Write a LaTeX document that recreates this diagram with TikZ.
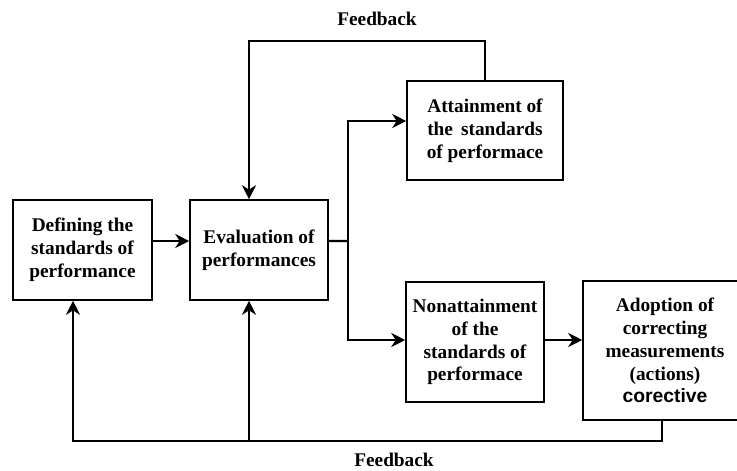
\documentclass[tikz,border=0pt]{standalone}
\usepackage{fontspec}
\setmainfont{Liberation Serif}
\newfontfamily\corfont{Liberation Sans}
\usetikzlibrary{arrows.meta}

\begin{document}
\begin{tikzpicture}[x=0.02cm,y=-0.02cm,
	box/.style={draw,line width=0.9pt,align=center,inner sep=0pt,font=\fontsize{11}{13}\selectfont\bfseries},
	arr/.style={-{Stealth[length=8pt,width=8pt]},line width=1.3pt},
	lbl/.style={font=\fontsize{11}{13}\selectfont\bfseries,inner sep=1pt}]
		\useasboundingbox (0,0) rectangle (737,470);
		\clip (0,0) rectangle (737,470);
			% the five boxes
			\node[box,minimum width=2.78cm,minimum height=2cm] (define) at (82.5,250) {Defining the\\standards of\\performance};
			\node[box,minimum width=2.76cm,minimum height=2cm] (eval) at (259,250) {Evaluation of\\performances};
			\node[box,minimum width=3.12cm,minimum height=1.98cm] (attain) at (485,130.5) {Attainment of\\the\ \,standards\\of performace};
			\node[box,minimum width=2.76cm,minimum height=2.4cm] (nonattain) at (475,342) {Nonattainment\\of the\\standards of\\performace};
			\node[box,minimum width=3.28cm,minimum height=2.78cm] (adopt) at (665,350.5) {Adoption of\\correcting\\measurements\\(actions)\\{\corfont corective}};
			% branch point and feedback corners
			\coordinate (split) at (348,241);
			\coordinate (fbtop) at (249,41);
			\coordinate (fbleft) at (73,441);
			\coordinate (fbmid) at (249,441);
			% connectors
			\draw[arr] ([yshift=0.18cm]define.east) -- ([yshift=0.18cm]eval.west);
			\draw[line width=1.3pt] ([yshift=0.18cm]eval.east) -- (split);
			\draw[arr] (split) |- ([yshift=0.19cm]attain.west);
			\draw[arr] (split) |- ([yshift=0.04cm]nonattain.west);
			\draw[arr] ([yshift=0.04cm]nonattain.east) -- ([yshift=0.04cm]nonattain.east -| adopt.west);
			\draw[arr] (attain.north) |- (fbtop) -- (fbtop |- eval.north);
			\draw[arr] ([xshift=-0.06cm]adopt.south) |- (fbleft) -- (fbleft |- define.south);
			\draw[arr] (fbmid) -- (fbmid |- eval.south);
			% labels
			\node[lbl] (fbtoplabel) at (377,19) {Feedback};
			\node[lbl] (fbbotlabel) at (394,460) {Feedback};
	\end{tikzpicture}
\end{document}
